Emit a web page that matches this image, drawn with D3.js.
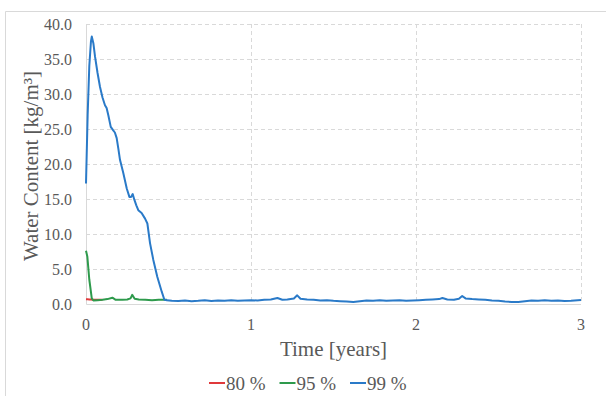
<!DOCTYPE html>
<html>
<head>
<meta charset="utf-8">
<script src="https://cdn.jsdelivr.net/npm/d3@7"></script>
<style>
  body { margin: 0; background: #fff; }
  text { font-family: "Liberation Serif", "Times New Roman", serif; fill: #595959; }
</style>
</head>
<body>
<div id="chart"></div>
<script>
// series: time [years] and water content [kg/m3]
const t80 = [0, 0.01, 0.02, 0.03, 0.04, 0.06, 0.08, 0.1];
const w80 = [0.68, 0.67, 0.66, 0.64, 0.62, 0.6, 0.6, 0.6];

const t95 = [0, 0.008, 0.02, 0.035, 0.045, 0.07, 0.1, 0.13, 0.16, 0.18, 0.22, 0.25, 0.27, 0.28, 0.295, 0.32, 0.36, 0.4, 0.44, 0.49];
const w95 = [7.6, 6.8, 3.5, 0.8, 0.5, 0.55, 0.6, 0.7, 0.9, 0.6, 0.6, 0.65, 0.8, 1.3, 0.75, 0.65, 0.6, 0.55, 0.6, 0.6];

const t99 = [0, 0.01, 0.02, 0.03, 0.035, 0.045, 0.055, 0.07, 0.085, 0.1, 0.115, 0.125, 0.135, 0.15, 0.165, 0.175,
  0.186, 0.196, 0.206, 0.226, 0.247, 0.263, 0.273, 0.283, 0.293, 0.305, 0.317, 0.337, 0.358, 0.372, 0.388, 0.408,
  0.432, 0.459, 0.475, 0.49, 0.52, 0.56, 0.6, 0.64, 0.68, 0.72, 0.76, 0.8, 0.84, 0.88, 0.92, 0.96, 1.0, 1.04,
  1.08, 1.12, 1.16, 1.19, 1.22, 1.26, 1.28, 1.3, 1.34, 1.38, 1.42, 1.46, 1.5, 1.54, 1.58, 1.62, 1.66, 1.7, 1.74,
  1.78, 1.82, 1.86, 1.9, 1.94, 1.98, 2.02, 2.06, 2.1, 2.14, 2.16, 2.19, 2.23, 2.26, 2.28, 2.3, 2.34, 2.38, 2.42,
  2.46, 2.5, 2.54, 2.58, 2.62, 2.66, 2.7, 2.74, 2.78, 2.82, 2.86, 2.9, 2.94, 2.98, 3.0];
const w99 = [17.2, 27, 34, 37.5, 38.2, 37.2, 35.3, 33, 31.0, 29.5, 28.4, 28.0, 27, 25.3, 24.8, 24.5,
  23.7, 22.2, 20.6, 18.7, 16.5, 15.3, 15.3, 15.7, 14.9, 14.1, 13.4, 13.0, 12.2, 11.5, 8.7, 6.3,
  3.9, 1.76, 0.6, 0.55, 0.45, 0.42, 0.5, 0.4, 0.45, 0.55, 0.42, 0.5, 0.45, 0.52, 0.45, 0.5, 0.55, 0.5,
  0.6, 0.65, 0.85, 0.6, 0.65, 0.8, 1.24, 0.75, 0.65, 0.6, 0.5, 0.55, 0.45, 0.4, 0.35, 0.3, 0.4, 0.5, 0.45,
  0.55, 0.45, 0.5, 0.55, 0.45, 0.5, 0.55, 0.6, 0.65, 0.7, 0.86, 0.65, 0.6, 0.75, 1.14, 0.8, 0.7, 0.65, 0.6,
  0.5, 0.45, 0.35, 0.3, 0.3, 0.4, 0.5, 0.45, 0.55, 0.45, 0.5, 0.42, 0.45, 0.55, 0.57];

const yTicks = [0, 5, 10, 15, 20, 25, 30, 35, 40];
const xTicks = [0, 1, 2, 3];
const seriesNames = ["80 %", "95 %", "99 %"];
const seriesColors = ["#e0393b", "#2e9a4c", "#2a7ac8"];

const W = 606, H = 396;
const plot = { left: 86, right: 581, top: 24, bottom: 304 };

const svg = d3.select("#chart").append("svg")
  .attr("width", W)
  .attr("height", H);

// chart frame (clipped on right and bottom in the reference)
svg.append("path")
  .attr("d", `M5.5,${H} V11.5 H${W}`)
  .attr("fill", "none")
  .attr("stroke", "#d9d9d9");

const x = d3.scaleLinear().domain([0, 3]).range([plot.left, plot.right]);
const y = d3.scaleLinear().domain([0, 40]).range([plot.bottom, plot.top]);

// dashed gridlines
svg.append("g").selectAll("line.h")
  .data(yTicks.filter(d => d > 0))
  .enter().append("line")
  .attr("x1", plot.left).attr("x2", plot.right)
  .attr("y1", d => Math.round(y(d)) + 0.5).attr("y2", d => Math.round(y(d)) + 0.5)
  .attr("stroke", "#d9d9d9")
  .attr("stroke-dasharray", "4,3");

svg.append("g").selectAll("line.v")
  .data(xTicks.filter(d => d > 0))
  .enter().append("line")
  .attr("x1", d => Math.round(x(d)) + 0.5).attr("x2", d => Math.round(x(d)) + 0.5)
  .attr("y1", plot.top).attr("y2", plot.bottom)
  .attr("stroke", "#d9d9d9")
  .attr("stroke-dasharray", "4,3");

// axis lines
svg.append("path")
  .attr("d", `M${plot.left + 0.5},${plot.top} V${plot.bottom + 0.5} H${plot.right}`)
  .attr("fill", "none")
  .attr("stroke", "#d9d9d9");

// y tick labels
svg.append("g").selectAll("text")
  .data(yTicks)
  .enter().append("text")
  .attr("x", 72)
  .attr("y", d => y(d) + 5.5)
  .attr("text-anchor", "end")
  .style("font-size", "16px")
  .text(d => d.toFixed(1));

// x tick labels
svg.append("g").selectAll("text")
  .data(xTicks)
  .enter().append("text")
  .attr("x", d => x(d))
  .attr("y", 330)
  .attr("text-anchor", "middle")
  .style("font-size", "16px")
  .text(d => d);

// axis titles
svg.append("text")
  .attr("transform", `translate(38,${(plot.top + plot.bottom) / 2 + 2}) rotate(-90)`)
  .attr("text-anchor", "middle")
  .style("font-size", "21px")
  .text("Water Content [kg/m³]");

svg.append("text")
  .attr("x", (plot.left + plot.right) / 2)
  .attr("y", 356)
  .attr("text-anchor", "middle")
  .style("font-size", "21px")
  .text("Time [years]");

// lines
const line = d3.line()
  .x(d => x(d[0]))
  .y(d => y(d[1]));

const series = [
  d3.zip(t80, w80),
  d3.zip(t95, w95),
  d3.zip(t99, w99)
];

svg.append("g").selectAll("path")
  .data(series)
  .enter().append("path")
  .attr("d", line)
  .attr("fill", "none")
  .attr("stroke", (d, i) => seriesColors[i])
  .attr("stroke-width", 2)
  .attr("stroke-linejoin", "round");

// legend
const legend = svg.append("g").selectAll("g")
  .data(seriesNames)
  .enter().append("g")
  .attr("transform", (d, i) => `translate(${209 + i * 70.5},0)`);

legend.append("line")
  .attr("x1", 0).attr("x2", 16)
  .attr("y1", 383).attr("y2", 383)
  .attr("stroke", (d, i) => seriesColors[i])
  .attr("stroke-width", 2);

legend.append("text")
  .attr("x", 17)
  .attr("y", 390)
  .style("font-size", "19px")
  .text(d => d);
</script>
</body>
</html>
